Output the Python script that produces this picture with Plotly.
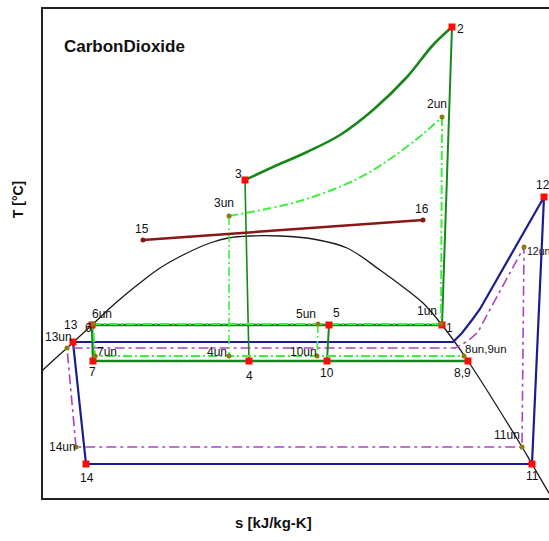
import plotly.graph_objects as go

# ---------------- data (s in kJ/kg-K, T in °C) ----------------
st_names = ["1", "2", "3", "4", "5", "6", "7", "8,9", "10", "11", "12", "13", "14"]
st_s = [2.396, 2.436, 1.608, 1.624, 1.944, 0.996, 1.000, 2.500, 1.936, 2.756, 2.804, 0.920, 0.972]
st_T = [19.2, 138.4, 77.2, 4.8, 19.2, 19.2, 4.8, 4.8, 4.8, -36.4, 70.4, 12.4, -36.4]

un_names = ["1un", "2un", "3un", "4un", "5un", "6un", "7un", "8un,9un", "10un", "11un", "12un", "13un", "14un"]
un_s = [2.392, 2.396, 1.544, 1.544, 1.900, 1.000, 1.008, 2.484, 1.896, 2.716, 2.724, 0.896, 0.932]
un_T = [19.6, 102.4, 62.8, 6.8, 19.6, 19.6, 6.8, 6.8, 6.8, -29.6, 50.4, 10.0, -29.6]

hx_names = ["15", "16"]
hx_s = [1.200, 2.320]
hx_T = [53.2, 61.2]

# gas cooler curves 3 -> 2 (real) and 3un -> 2un (ideal)
gc_s = [1.608, 1.720, 1.856, 1.988, 2.120, 2.256, 2.360, 2.436]
gc_T = [77.2, 82.4, 88.4, 95.2, 105.2, 118.4, 131.2, 138.4]
gcun_s = [1.544, 1.828, 2.056, 2.188, 2.320, 2.396]
gcun_T = [62.8, 68.8, 77.6, 85.6, 95.6, 102.4]

# low-stage superheat curves towards 12 / 12un
sh_s = [2.440, 2.476, 2.516, 2.548]
sh_T = [12.4, 16.0, 21.2, 25.6]
shun_s = [2.448, 2.500, 2.540, 2.576]
shun_T = [10.0, 12.8, 16.4, 23.2]

# saturation dome
dome_s = [0.770, 0.800, 0.896, 0.996, 1.068, 1.128, 1.208, 1.268, 1.368, 1.468, 1.540, 1.628,
          1.748, 1.880, 2.016, 2.148, 2.256, 2.320, 2.396, 2.500, 2.716, 2.756, 2.824, 2.85]
dome_T = [-2.0, 1.2, 10.0, 19.2, 26.0, 31.2, 37.6, 42.0, 47.6, 52.0, 54.0, 54.8,
          54.8, 53.6, 50.0, 41.2, 33.2, 28.0, 19.2, 4.8, -29.6, -36.4, -48.0, -52.0]

S = dict(zip(st_names, st_s)); T = dict(zip(st_names, st_T))
SU = dict(zip(un_names, un_s)); TU = dict(zip(un_names, un_T))

DKGREEN = "#17871a"
LTGREEN = "#3ff03f"
BLUE = "#1c1c8e"
PURPLE = "#a645c2"
MAROON = "#8a1616"
OLIVE = "#8c7a0c"

fig = go.Figure()

def line(xs, ys, color, width, dash="solid", shape="linear"):
    fig.add_trace(go.Scatter(x=xs, y=ys, mode="lines", hoverinfo="skip",
                             line=dict(color=color, width=width, dash=dash, shape=shape)))

# dome
line(dome_s, dome_T, "#1a1a1a", 1.3, shape="spline")

# low-temperature loop (real, blue)
line([S["14"], S["13"]] + sh_s + [S["12"], S["11"], S["14"]],
     [T["14"], T["13"]] + sh_T + [T["12"], T["11"], T["14"]], BLUE, 2.2)
# low-temperature loop (ideal, purple dash-dot)
pdash = "10px,4px,3px,4px"
line([SU["14un"], SU["13un"]] + shun_s + [SU["12un"], SU["11un"], SU["14un"]],
     [TU["14un"], TU["13un"]] + shun_T + [TU["12un"], TU["11un"], TU["14un"]], PURPLE, 1.6, pdash)

# high cycle real (dark green)
line(gc_s, gc_T, DKGREEN, 2.6, shape="spline")
line([S["2"], S["1"]], [T["2"], T["1"]], DKGREEN, 2)
line([S["3"], S["4"]], [T["3"], T["4"]], DKGREEN, 1.6)
line([S["1"], S["5"], S["6"], S["7"], S["4"], S["10"], S["8,9"]],
     [T["1"], T["5"], T["6"], T["7"], T["4"], T["10"], T["8,9"]], DKGREEN, 2.4)
line([S["5"], S["10"]], [T["5"], T["10"]], DKGREEN, 2)

# high cycle ideal (light green dash-dot)
gdash = "9px,3px,2px,3px"
line(gcun_s, gcun_T, LTGREEN, 2, gdash, shape="spline")
line([SU["2un"], SU["1un"]], [TU["2un"], TU["1un"]], LTGREEN, 2, gdash)
line([SU["3un"], SU["4un"]], [TU["3un"], TU["4un"]], LTGREEN, 1.6, gdash)
line([SU["1un"], SU["5un"], SU["6un"], SU["7un"], SU["4un"], SU["10un"], SU["8un,9un"]],
     [TU["1un"], TU["5un"], TU["6un"], TU["7un"], TU["4un"], TU["10un"], TU["8un,9un"]], LTGREEN, 2, gdash)
line([SU["5un"], SU["10un"]], [TU["5un"], TU["10un"]], LTGREEN, 1.6, gdash)

# heat source line 15 -> 16
fig.add_trace(go.Scatter(x=hx_s, y=hx_T, mode="lines+markers", hoverinfo="skip",
                         line=dict(color=MAROON, width=2.6),
                         marker=dict(color=MAROON, size=5, symbol="circle")))

# state markers
fig.add_trace(go.Scatter(x=st_s, y=st_T, mode="markers", hoverinfo="skip",
                         marker=dict(color="#ff0a0a", size=7, symbol="square",
                                     line=dict(width=0))))
fig.add_trace(go.Scatter(x=un_s, y=un_T, mode="markers", hoverinfo="skip",
                         marker=dict(color=OLIVE, size=5, symbol="circle", line=dict(width=0))))

# label pixel offsets (dx right, dy down, anchor, size)
st_off = {"1": (7, 3, "center", 12), "2": (8, 2, "center", 12), "3": (-7, -6, "center", 12),
          "4": (0, 15, "center", 12), "5": (7, -12, "center", 12), "6": (-4, 3, "center", 12),
          "7": (-1, 11, "center", 12), "8,9": (-6, 12, "center", 12), "10": (0, 12, "center", 12),
          "11": (0, 12, "center", 12), "12": (-1, -12, "center", 12), "13": (-2, -17, "center", 12),
          "14": (1, 14, "center", 12)}
un_off = {"1un": (-14, -13, "center", 12), "2un": (-5, -13, "center", 12),
          "3un": (-5, -13, "center", 12), "4un": (-12, -4, "center", 12),
          "5un": (-12, -10, "center", 12), "6un": (9, -10, "center", 12),
          "7un": (12, -4, "center", 12), "8un,9un": (22, -7, "center", 11.5),
          "10un": (-14, -4, "center", 12), "11un": (-15, -12, "center", 12),
          "12un": (2, 4, "left", 10.5), "13un": (-9, -11, "center", 12),
          "14un": (-14, 0, "center", 12)}
hx_off = {"15": (-1, -11, "center", 12), "16": (-1, -11, "center", 12)}

for names, xs, ys, off in [(st_names, st_s, st_T, st_off), (un_names, un_s, un_T, un_off),
                           (hx_names, hx_s, hx_T, hx_off)]:
    for n, x, y in zip(names, xs, ys):
        dx, dy, anc, fs = off[n]
        fig.add_annotation(x=x, y=y, xref="x", yref="y", text=n, showarrow=False,
                           xshift=dx, yshift=-dy, xanchor=anc, yanchor="middle",
                           font=dict(family="Liberation Sans, Arial", size=fs, color="#111"),
                           borderpad=0)

# titles
fig.add_annotation(xref="paper", yref="paper", x=0.0375, y=0.924, text="<b>CarbonDioxide</b>",
                   showarrow=False, xanchor="left", yanchor="middle",
                   font=dict(family="Liberation Sans, Arial", size=17, color="#111"))
fig.add_annotation(xref="paper", yref="paper", x=-0.0494, y=0.609, text="<b>T [°C]</b>",
                   showarrow=False, textangle=-90, xanchor="center", yanchor="middle",
                   font=dict(family="Liberation Sans, Arial", size=14, color="#111"))
fig.add_annotation(xref="paper", yref="paper", x=0.4565, y=-0.051, text="<b>s [kJ/kg-K]</b>",
                   showarrow=False, xanchor="center", yanchor="middle",
                   font=dict(family="Liberation Sans, Arial", size=15, color="#111"))

fig.update_layout(
    width=549, height=541, showlegend=False,
    margin=dict(l=43, r=0, t=9, b=43),
    paper_bgcolor="white", plot_bgcolor="white",
    xaxis=dict(range=[0.8, 2.824], showgrid=False, zeroline=False, showticklabels=False,
               ticks="", showline=True, mirror=True, linecolor="#222", linewidth=2),
    yaxis=dict(range=[-50, 145.6], showgrid=False, zeroline=False, showticklabels=False,
               ticks="", showline=True, mirror=False, linecolor="#222", linewidth=2),
)

fig.write_html("out.html")
